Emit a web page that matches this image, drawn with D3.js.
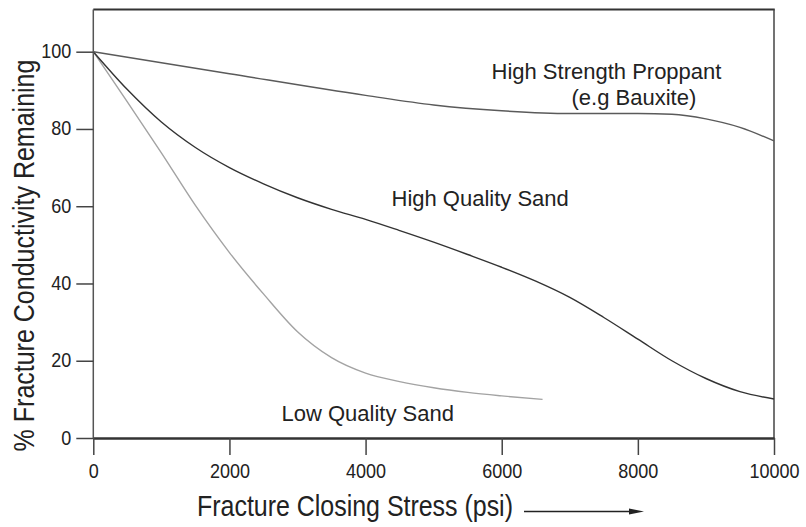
<!DOCTYPE html>
<html>
<head>
<meta charset="utf-8">
<script src="https://cdn.jsdelivr.net/npm/d3@7/dist/d3.min.js"></script>
<style>
  html, body { margin: 0; padding: 0; background: #fff; }
  svg text { font-family: "Liberation Sans", Arial, sans-serif; fill: #222; }
</style>
</head>
<body>
<svg id="chart" width="806" height="527"></svg>
<script>
// ---- data ----
const xTicks = [0, 2000, 4000, 6000, 8000, 10000];
const yTicks = [0, 20, 40, 60, 80, 100];

const highStrengthStress = [0, 2000, 4000, 5000, 6000, 7000, 8000, 8500, 9000, 9500, 10000];
const highStrengthValues = [100, 94.3, 88.7, 86.2, 84.7, 84.0, 84.0, 83.8, 82.6, 80.4, 76.9];

const highQualityStress = [0, 500, 1000, 1500, 2000, 2500, 3000, 3500, 4000, 4500, 5000, 5500, 6000, 6500, 7000, 7500, 8000, 8500, 9000, 9500, 10000];
const highQualityValues = [100, 90.2, 81.8, 75.2, 70.0, 65.8, 62.2, 59.2, 56.6, 53.7, 50.7, 47.5, 44.2, 40.6, 36.4, 31.2, 25.6, 20.0, 15.4, 12.0, 10.1];

const lowQualityStress = [0, 500, 1000, 1500, 2000, 2500, 3000, 3500, 4000, 4500, 5000, 5500, 6000, 6600];
const lowQualityValues = [100, 87.0, 73.8, 60.2, 48.0, 37.3, 27.5, 20.8, 16.8, 14.6, 13.0, 11.8, 10.9, 10.0];

const seriesLabels = ["High Strength Proppant", "(e.g Bauxite)", "High Quality Sand", "Low Quality Sand"];
const xTitle = "Fracture Closing Stress (psi)";
const yTitle = "% Fracture Conductivity Remaining";

// ---- layout ----
const svg = d3.select("#chart");
const left = 93.3, right = 774, yZero = 438, yHundred = 51.7, frameTop = 9.5;
const x = d3.scaleLinear().domain([0, 10000]).range([left, right]);
const y = d3.scaleLinear().domain([0, 100]).range([yZero, yHundred]);
const stretch = 1.15;

// frame (top and right borders)
svg.append("line").attr("x1", left).attr("x2", right + 0.75).attr("y1", frameTop).attr("y2", frameTop)
  .attr("stroke", "#333").attr("stroke-width", 2);
svg.append("line").attr("x1", right).attr("x2", right).attr("y1", frameTop).attr("y2", yZero)
  .attr("stroke", "#444").attr("stroke-width", 1.5);

// y axis
const yAxis = d3.axisLeft(y).tickValues(yTicks).tickFormat(d3.format("d"))
  .tickSize(17).tickSizeOuter(0).tickPadding(5);
const gy = svg.append("g").attr("transform", `translate(${left},0)`).call(yAxis);
gy.select(".domain").attr("stroke", "#555").attr("stroke-width", 1.5)
  .attr("d", `M0,${frameTop}V${yZero}`);
gy.selectAll(".tick line").attr("stroke", "#444").attr("stroke-width", 1.5);
gy.selectAll(".tick text")
  .attr("font-size", 18).attr("fill", "#222")
  .attr("dy", null).attr("y", 0)
  .attr("transform", `translate(0,6) scale(1,${stretch})`);

// x axis
const xAxis = d3.axisBottom(x).tickValues(xTicks).tickFormat(d3.format("d"))
  .tickSize(17).tickSizeOuter(0).tickPadding(0);
const gx = svg.append("g").attr("transform", `translate(0,${yZero})`).call(xAxis);
gx.select(".domain").attr("stroke", "#333").attr("stroke-width", 2.5);
gx.selectAll(".tick line").attr("stroke", "#444").attr("stroke-width", 1.5);
gx.selectAll(".tick text")
  .attr("font-size", 18).attr("fill", "#222")
  .attr("dy", null).attr("y", 0)
  .attr("transform", `translate(0,40) scale(1,${stretch})`);

// curves
const line = d3.line().x(d => x(d[0])).y(d => y(d[1])).curve(d3.curveMonotoneX);
const series = [
  { xs: lowQualityStress, ys: lowQualityValues, color: "#a3a3a3", w: 1.4 },
  { xs: highQualityStress, ys: highQualityValues, color: "#333", w: 1.4 },
  { xs: highStrengthStress, ys: highStrengthValues, color: "#5a5a5a", w: 1.4 }
];
series.forEach(s => {
  svg.append("path")
    .datum(s.xs.map((v, i) => [v, s.ys[i]]))
    .attr("fill", "none").attr("stroke", s.color).attr("stroke-width", s.w)
    .attr("d", line);
});

// series labels
const labelPos = [[491.5, 78.5], [571.5, 105], [391.5, 205.5], [281.5, 420.5]];
seriesLabels.forEach((t, i) => {
  svg.append("text").attr("x", labelPos[i][0]).attr("y", labelPos[i][1])
    .attr("font-size", 22).text(t);
});

// x title + arrow
svg.append("text").attr("transform", `translate(197,516) scale(1,${stretch})`)
  .attr("font-size", 25).attr("textLength", 316).text(xTitle);
svg.append("line").attr("x1", 524).attr("x2", 632).attr("y1", 511.5).attr("y2", 511.5)
  .attr("stroke", "#222").attr("stroke-width", 1.3);
svg.append("path").attr("d", "M629,508.5 L644,511.5 L629,514.5 Z").attr("fill", "#222");

// y title
svg.append("text")
  .attr("transform", `translate(33.5,255.5) rotate(-90) scale(1,${stretch})`)
  .attr("text-anchor", "middle").attr("font-size", 25).text(yTitle);
</script>
</body>
</html>
